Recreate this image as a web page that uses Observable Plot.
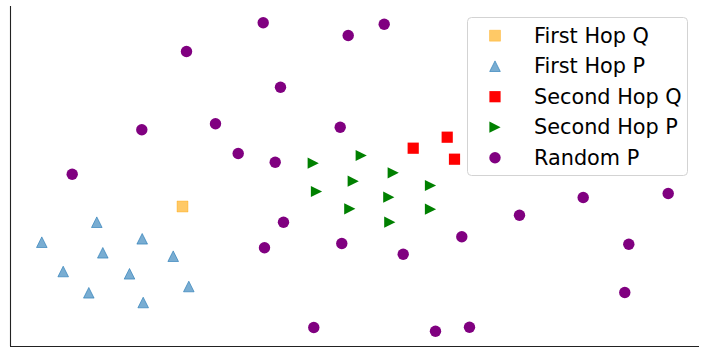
<!DOCTYPE html>
<html><head><meta charset="utf-8">
<script src="https://cdn.jsdelivr.net/npm/d3@7"></script>
<script src="https://cdn.jsdelivr.net/npm/@observablehq/plot@0.6"></script>
<style>
body{margin:0;background:#fff;}
#wrap{position:relative;width:706px;height:357px;}
#wrap svg{display:block;}
#legend{position:absolute;left:0;top:0;}
</style>
</head><body><div id="wrap"></div>
<script>
// Values (arbitrary units, origin at the axes' corner)
const seriesNames = ["First Hop Q", "First Hop P", "Second Hop Q", "Second Hop P", "Random P"];

const firstHopQ = [[172, 140]];

const firstHopP = [
  [86.3, 124.3], [31.3, 104.3], [131.7, 107.7], [92.3, 93.7], [162.7, 90.3],
  [52.7, 75], [119, 72.7], [178.3, 60], [78.3, 53.7], [132.7, 44]
];

const secondHopQ = [[402.7, 198.3], [436.7, 209.3], [444, 187.3]];

const secondHopP = [
  [350.7, 191], [302.7, 183.3], [382.7, 173.7], [342.7, 165.3], [420, 161],
  [306, 155], [378.3, 149.3], [339.3, 137.7], [420, 137.3], [379.3, 124.3]
];

const randomP = [
  [252.7, 323.7], [373.7, 322.3], [337.7, 311], [176, 295], [270, 259.3],
  [131.3, 216.7], [205, 222.7], [329.7, 219.3], [227.7, 193], [264.7, 184.3],
  [61.7, 172.3], [273, 124.3], [254, 98.7], [331.3, 103], [392.7, 92.3],
  [451.3, 109.7], [509, 131.3], [572.7, 149], [657.7, 153], [618.3, 102.3],
  [614.3, 54], [303.3, 19], [425, 15.3], [459, 19.3]
];

// custom marker shapes (matplotlib-like)
const half = size => Math.sqrt(size / Math.PI);
const triUp = {draw(c, s){const r = half(s); c.moveTo(0,-r); c.lineTo(r,r); c.lineTo(-r,r); c.closePath();}};
const triRight = {draw(c, s){const r = half(s); c.moveTo(r,0); c.lineTo(-r,-r); c.lineTo(-r,r); c.closePath();}};
const square = {draw(c, s){const r = half(s); c.moveTo(-r,-r); c.lineTo(r,-r); c.lineTo(r,r); c.lineTo(-r,r); c.closePath();}};

const styles = [
  {symbol: square, r: 5.5, fill: "orange", fillOpacity: 0.6, stroke: "orange", strokeOpacity: 0.6, strokeWidth: 0.6},
  {symbol: triUp, r: 5.3, fill: "#1f77b4", fillOpacity: 0.6, stroke: "#1f77b4", strokeOpacity: 0.6, strokeWidth: 1},
  {symbol: square, r: 5.6, fill: "red", stroke: null},
  {symbol: triRight, r: 5.6, fill: "green", stroke: null},
  {symbol: "circle", r: 5.7, fill: "purple", stroke: null}
];
const datasets = [firstHopQ, firstHopP, secondHopQ, secondHopP, randomP];

const chart = Plot.plot({
  width: 706, height: 357,
  marginLeft: 10, marginRight: 7, marginTop: 6, marginBottom: 11,
  x: {domain: [0, 689], axis: null},
  y: {domain: [0, 340], axis: null},
  style: {background: "white"},
  marks: [
    ...datasets.map((d, i) => Plot.dot(d, {x: p => p[0], y: p => p[1], ...styles[i]})),
    Plot.ruleX([0], {stroke: "#222", strokeWidth: 1.1}),
    Plot.ruleY([0], {stroke: "#222", strokeWidth: 1.1})
  ]
});
const wrap = document.getElementById("wrap");
wrap.appendChild(chart);

// legend overlay inside the plot area
const leg = d3.select(wrap).append("svg").attr("id", "legend")
  .attr("width", 706).attr("height", 357);
leg.append("rect").attr("x", 467.5).attr("y", 17.5).attr("width", 220).attr("height", 158)
  .attr("rx", 4).attr("fill", "white").attr("fill-opacity", 0.8)
  .attr("stroke", "#d3d3d3").attr("stroke-width", 1);
seriesNames.forEach((name, i) => {
  const cy = 35.7 + 30.5 * i;
  const st = styles[i];
  const shape = typeof st.symbol === "string" ? d3.symbolCircle : st.symbol;
  const path = d3.path();
  shape.draw(path, st.r * st.r * Math.PI);
  leg.append("path").attr("d", path.toString())
    .attr("transform", `translate(495,${cy})`)
    .attr("fill", st.fill).attr("fill-opacity", st.fillOpacity ?? 1)
    .attr("stroke", st.stroke ?? "none").attr("stroke-opacity", st.strokeOpacity ?? 1)
    .attr("stroke-width", st.strokeWidth ?? 0);
  leg.append("text").attr("x", 534).attr("y", cy + 6.8)
    .attr("font-family", "DejaVu Sans").attr("font-size", 20.8).attr("fill", "#000")
    .text(name);
});
</script></body></html>
